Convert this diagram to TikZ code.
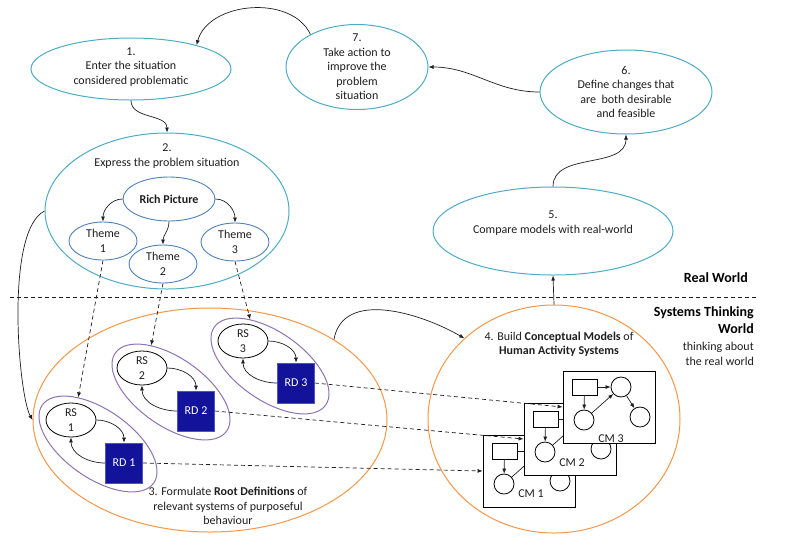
\documentclass[tikz,border=0pt]{standalone}
\usepackage{fontspec}
\setmainfont{Carlito}
\usepackage{tikz}
\usetikzlibrary{arrows.meta}
\usetikzlibrary{shapes.geometric}
\definecolor{stageblue}{RGB}{75,172,198}
\definecolor{themeblue}{RGB}{79,129,189}
\definecolor{stageorange}{RGB}{247,150,70}
\definecolor{grouppurple}{RGB}{140,115,180}
\definecolor{rdblue}{RGB}{18,18,155}
\definecolor{rdedge}{RGB}{80,80,200}
\definecolor{inkgrey}{RGB}{30,30,30}
\tikzset{
        stage/.style={ellipse, draw=stageblue, line width=1pt, inner sep=0pt},
        model/.style={ellipse, draw=stageorange, line width=1pt, inner sep=0pt},
        txt/.style={align=center, inner sep=0pt, text=inkgrey},
        theme/.style={ellipse, draw=themeblue, line width=0.9pt, fill=white, minimum width=68, minimum height=38, inner sep=0pt, align=center, text=inkgrey},
        group/.style={ellipse, draw=grouppurple, line width=1pt, minimum width=136, minimum height=68, rotate=-35},
        rsnode/.style={ellipse, draw=black, line width=0.8pt, fill=white, minimum width=50, minimum height=34, inner sep=0pt, align=center, text=inkgrey},
        rdbox/.style={rectangle, fill=rdblue, draw=rdedge, line width=0.6pt, minimum width=37, minimum height=40, inner sep=0pt, text=white},
        cmbox/.style={rectangle, draw=black, fill=white, line width=0.8pt, minimum width=92, minimum height=72},
        cmrect/.style={rectangle, draw=black, line width=0.8pt, minimum width=25, minimum height=16, inner sep=0pt},
        cmact/.style={circle, draw=black, line width=0.8pt, minimum size=20, inner sep=0pt},
        flow/.style={-{Latex[length=5pt,width=4pt]}, line width=0.7pt, draw=inkgrey},
        link/.style={flow, dash pattern=on 4pt off 3pt},
        heading/.style={inner sep=0pt, text=black, font=\bfseries\fontsize{14}{17}\selectfont}
}
\begin{document}
\begin{tikzpicture}[x=1pt, y=-1pt, font=\fontsize{12}{14.5}\selectfont]
        \useasboundingbox (0,0) rectangle (786,547);
        \node[stage, minimum width=200, minimum height=62] (s1) at (131,69) {};
        \node[stage, minimum width=142, minimum height=85] (s7) at (357,67) {};
        \node[stage, minimum width=172, minimum height=84] (s6) at (626,92) {};
        \node[stage, minimum width=240, minimum height=88] (s5) at (553,231) {};
        \node[stage, minimum width=244, minimum height=156] (s2) at (167,211) {};
        \node[model, minimum width=354, minimum height=224] (s3) at (210,420) {};
        \node[model, minimum width=252, minimum height=228] (s4) at (554,419) {};
        \node[txt] (t1) at (131,67) {1.\\Enter the situation\\considered problematic};
        \node[txt] (t7) at (357,67) {7.\\Take action to\\improve the\\problem\\situation};
        \node[txt] (t6) at (626,92) {6.\\Define changes that\\are\ \ both desirable\\and feasible};
        \node[txt] (t5) at (553,223) {5.\\Compare models with real-world};
        \node[txt] (t2) at (167,156) {2.\\Express the problem situation};
        \node[txt] (t3) at (228,506) {3. Formulate \textbf{Root Definitions} of\\relevant systems of purposeful\\behaviour};
        \node[txt] (t4) at (559,344) {4. Build \textbf{Conceptual Models} of\\\textbf{Human Activity Systems}};
        \node[heading, anchor=east] (rw) at (748,278) {Real World};
        \node[heading, anchor=north east, align=right] (stw) at (754,306) {Systems Thinking\\World};
        \node[txt, anchor=north east, align=right] (tab) at (754,342) {thinking about\\the real world};
        \coordinate (sepL) at (10,297);
        \coordinate (sepR) at (757,297);
        \draw[inkgrey, line width=0.7pt, dash pattern=on 4pt off 3pt] (sepL) -- (sepR);
        \node[theme, minimum width=92, minimum height=44, font=\bfseries\fontsize{12}{14.5}\selectfont] (rp) at (169,199) {Rich Picture};
        \node[theme] (th1) at (103,241) {Theme\\1};
        \node[theme] (th2) at (163,264) {Theme\\2};
        \node[theme] (th3) at (235,242) {Theme\\3};
        \node[group] (g1) at (98,444) {};
        \node[group] (g2) at (171,392) {};
        \node[group] (g3) at (270,366) {};
        \node[rsnode] (rs1) at (71,420) {RS\\1};
        \node[rsnode] (rs2) at (142,368) {RS\\2};
        \node[rsnode] (rs3) at (243,341) {RS\\3};
        \node[rdbox] (rd1) at (124,463) {RD 1};
        \node[rdbox] (rd2) at (196,411) {RD 2};
        \node[rdbox] (rd3) at (296,383) {RD 3};
        \foreach \i/\x/\y/\ly in {1/483/435/59, 2/524/403/60, 3/563/371/68} {
                \node[cmbox] (cm\i) at (\x+46,\y+36) {};
                \node[cmrect] (cm\i-r) at (\x+21.5,\y+16) {};
                \node[cmact] (cm\i-a) at (\x+58,\y+16) {};
                \node[cmact] (cm\i-b) at (\x+21,\y+49) {};
                \node[cmact] (cm\i-c) at (\x+77,\y+46) {};
                \node[txt] (cm\i-l) at (\x+48,\y+\ly) {CM \i};
                \draw[flow] (cm\i-r) -- (cm\i-a);
                \draw[flow] (cm\i-r) -- (cm\i-b);
                \draw[flow] (cm\i-b) -- (cm\i-a);
                \draw[flow] (cm\i-a) -- (cm\i-c);
        }
        \draw[flow] (s7.145) to[out=115,in=75] (s1.20);
        \draw[flow] (s1.south) to[out=-90,in=90] (s2.north);
        \draw[flow] (rp.west) to[out=180,in=90] (th1.north);
        \draw[flow] (rp.south) to[out=-90,in=90] (th2.north);
        \draw[flow] (rp.east) to[out=0,in=90] (th3.north);
        \draw[flow] (s2.west) .. controls +(-40,20) and +(-14,-25) .. (s3.west);
        \foreach \i in {1,2,3} {
                \draw[link] (th\i.south) -- (g\i.148);
                \draw[flow] (rs\i.east) to[out=0,in=90] (rd\i.north);
                \draw[flow] (rd\i.west) to[out=180,in=-90] (rs\i.south);
                \draw[link] (rd\i.east) -- (cm\i.west);
        }
        \draw[flow] (s3.33) to[out=80,in=150] (s4.138);
        \draw[flow] (s4.north) -- (s5.south);
        \draw[flow] (s5.north) to[out=90,in=-90] (s6.south);
        \draw[flow] (s6.west) to[out=180,in=0] (s7.east);
\end{tikzpicture}
\end{document}
